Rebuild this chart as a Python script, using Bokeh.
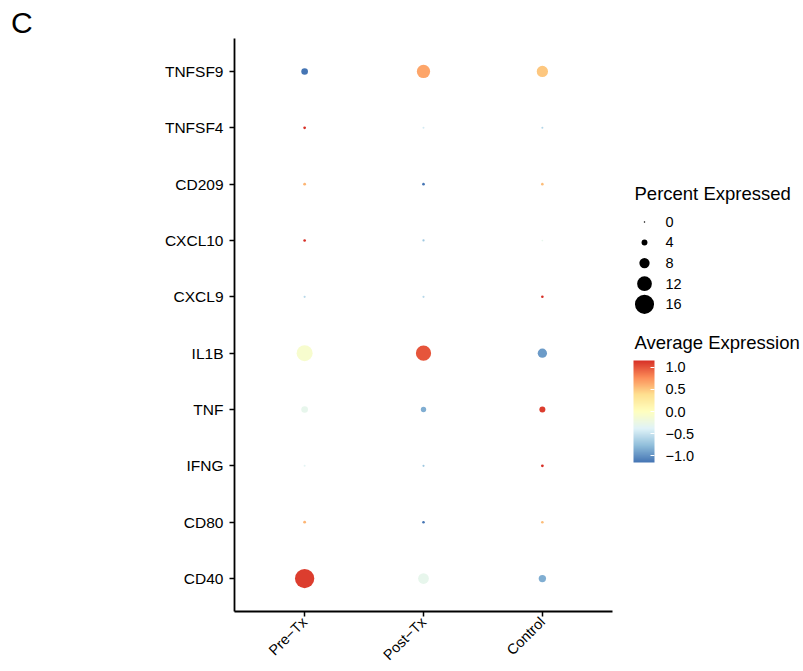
import math
import numpy as np
from bokeh.plotting import figure
from bokeh.models import (FactorRange, Range1d, ColumnDataSource, LinearColorMapper,
                          ColorBar, FixedTicker)
from bokeh.layouts import row
from bokeh.transform import transform
from bokeh.core.properties import value
from bokeh.embed import file_html
from bokeh.resources import INLINE

# ---------------- data ----------------
genes = ["CD40", "CD80", "IFNG", "TNF", "IL1B", "CXCL9", "CXCL10", "CD209", "TNFSF4", "TNFSF9"]
groups = ["Pre\u2212Tx", "Post\u2212Tx", "Control"]

# percent expressed (bottom -> top gene order)
pct_pre  = [16.2, 1.2, 0.5, 4.7, 13.2, 0.6, 1.1, 1.2, 1.1, 4.7]
pct_post = [8.4, 1.0, 0.6, 3.5, 12.5, 0.6, 0.7, 1.0, 0.4, 10.7]
pct_ctrl = [5.3, 1.0, 1.2, 4.1, 7.1, 1.0, 0.2, 1.0, 0.5, 8.9]

# average expression (scaled)
avg_pre  = [1.10, 0.58, -0.35, -0.30, -0.10, -0.58, 1.15, 0.58, 1.15, -1.15]
avg_post = [-0.30, -1.15, -0.70, -0.85, 1.00, -0.58, -0.70, -1.15, -0.45, 0.65]
avg_ctrl = [-0.85, 0.55, 1.15, 1.10, -0.95, 1.15, -0.30, 0.55, -0.60, 0.50]

size_legend_values = [0, 4, 8, 12, 16]
size_legend_labels = ["0", "4", "8", "12", "16"]
cbar_ticks = [-1, -0.5, 0, 0.5, 1]
cbar_labels = ["\u22121.0", "\u22120.5", "0.0", "0.5", "1.0"]
col_low, col_high = -1.155, 1.155

# ---------------- styles ----------------
FONT = "Liberation Sans"
anchors = ["#4575B4", "#91BFDB", "#E0F3F8", "#FFFFBF", "#FEE090", "#FC8D59", "#D73027"]

def interp_palette(hexes, n=256):
    rgb = np.array([[int(h[i:i + 2], 16) for i in (1, 3, 5)] for h in hexes], float)
    pos = np.linspace(0, 1, len(hexes))
    t = np.linspace(0, 1, n)
    out = []
    for tt in t:
        c = [np.interp(tt, pos, rgb[:, k]) for k in range(3)]
        out.append("#%02x%02x%02x" % tuple(int(round(v)) for v in c))
    return out

palette = interp_palette(anchors)
mapper = LinearColorMapper(palette=palette, low=col_low, high=col_high)

def dot_size(p):
    return 1.5 + 1.1 * p

# ---------------- build source ----------------
xs, ys, pcts, avgs = [], [], [], []
for g, pl, al in zip(groups, [pct_pre, pct_post, pct_ctrl], [avg_pre, avg_post, avg_ctrl]):
    for gene, pv, av in zip(genes, pl, al):
        xs.append(g); ys.append(gene); pcts.append(pv); avgs.append(av)
src = ColumnDataSource(dict(group=xs, gene=ys, pct=pcts, avg=avgs,
                            size=[dot_size(v) for v in pcts]))

# ---------------- layout constants ----------------
H = 671
TOP, BOTTOM = 38, 59
W1 = 623
W2 = 180
FRAME_LEFT = 234

# ---------------- main plot ----------------
p = figure(x_range=FactorRange(*groups, range_padding=0.09, range_padding_units="absolute"),
           y_range=FactorRange(*genes, range_padding=0.085, range_padding_units="absolute"),
           width=W1, height=H,
           min_border_left=FRAME_LEFT, min_border_right=W1 - 612, min_border_top=TOP,
           min_border_bottom=BOTTOM,
           output_backend="svg", toolbar_location=None)
p.outline_line_color = None
p.grid.visible = False
p.background_fill_color = "white"

p.title.text = "C"
p.title.align = "left"
p.title.offset = -(FRAME_LEFT - 10.5)
p.title.standoff = 0
p.title.text_font = FONT
p.title.text_font_size = "30px"
p.title.text_font_style = "normal"
p.title.text_color = "black"

p.scatter(x="group", y="gene", size="size", source=src,
          fill_color=transform("avg", mapper), line_color=None)

for ax in p.axis:
    ax.axis_line_color = "black"
    ax.axis_line_width = 1.8
    ax.major_tick_line_color = "black"
    ax.major_tick_line_width = 1.5
    ax.major_tick_out = 5
    ax.major_tick_in = 0
    ax.minor_tick_line_color = None
    ax.major_label_text_font = FONT
    ax.major_label_text_color = "black"
p.yaxis.major_label_text_font_size = "15.5px"
p.yaxis.major_label_standoff = 6
p.xaxis.major_label_text_font_size = "14.5px"
p.xaxis.major_label_orientation = math.pi / 4
p.xaxis.major_label_standoff = 3

# ---------------- legend panel (page-pixel coordinates) ----------------
p2 = figure(width=W2, height=H, x_range=Range1d(W1, W1 + W2), y_range=Range1d(H - BOTTOM, TOP),
            min_border_left=0, min_border_right=0, min_border_top=TOP, min_border_bottom=BOTTOM,
            output_backend="svg", toolbar_location=None,
            x_axis_location=None, y_axis_location=None)
p2.outline_line_color = None
p2.grid.visible = False

LEG_X_TITLE = 634
LEG_TITLE_Y = 193
LEG_KEY_X = 644
LEG_LABEL_X = 665
LEG_TOP = 221.7
LEG_STEP = 20.65
CB_TITLE_Y = 343

p2.text(x=[LEG_X_TITLE], y=[LEG_TITLE_Y], text=["Percent Expressed"],
        text_font=value(FONT), text_font_size=value("18.5px"),
        text_baseline="alphabetic", text_color="black")
key_y = [LEG_TOP + i * LEG_STEP for i in range(len(size_legend_values))]
p2.scatter(x=[LEG_KEY_X] * len(size_legend_values), y=key_y,
           size=[dot_size(v) for v in size_legend_values], fill_color="black", line_color=None)
p2.text(x=[LEG_LABEL_X] * len(size_legend_labels), y=key_y, text=size_legend_labels,
        text_font=value(FONT), text_font_size=value("14.5px"),
        text_baseline="middle", text_color="black")

p2.text(x=[LEG_X_TITLE], y=[CB_TITLE_Y], text=["Average Expression"],
        text_font=value(FONT), text_font_size=value("18.5px"),
        text_baseline="alphabetic", text_color="black")

cb = ColorBar(color_mapper=mapper, ticker=FixedTicker(ticks=cbar_ticks),
              major_label_overrides=dict(zip(cbar_ticks, cbar_labels)),
              width=21, height=102, location=(633 - W1, (H - BOTTOM) - 463), padding=0,
              background_fill_alpha=0, border_line_color=None,
              major_tick_line_color="white", major_tick_in=4, major_tick_out=0,
              minor_tick_line_color=None, bar_line_color=None,
              label_standoff=11,
              major_label_text_font=FONT, major_label_text_font_size="14.5px",
              major_label_text_color="black")
p2.add_layout(cb)

layout = row(p, p2)
open("out.html", "w").write(file_html(layout, INLINE))
